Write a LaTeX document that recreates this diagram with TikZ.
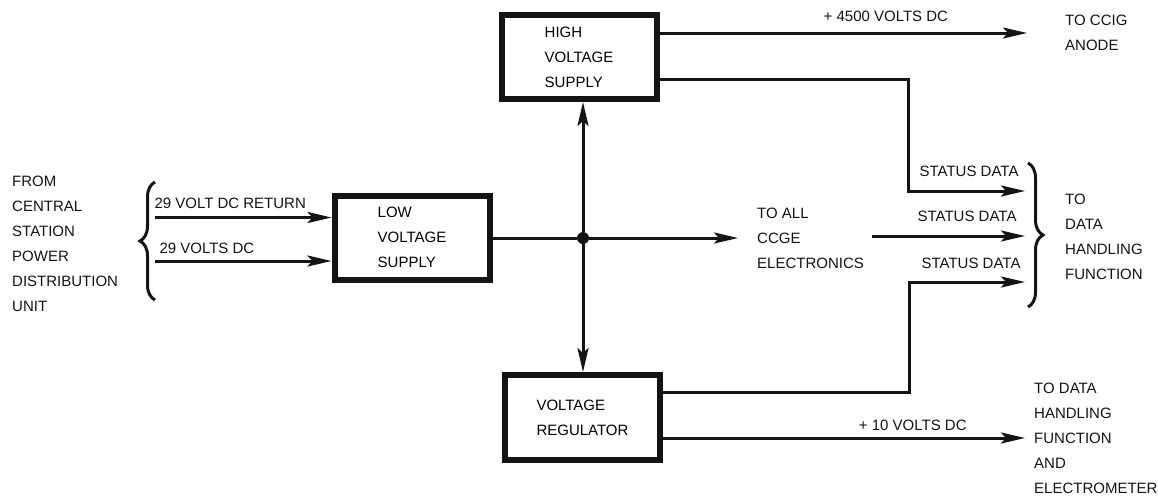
\documentclass[tikz,border=0pt]{standalone}
\usepackage{fontspec}
\setmainfont{Liberation Sans}
\usepackage{tikz}
\usetikzlibrary{arrows.meta, positioning, decorations.pathreplacing}
\definecolor{ink}{RGB}{20,20,20}
\newcommand{\diagfont}{\fontsize{15}{25}\selectfont}
\tikzset{
  block/.style={rectangle, draw=ink, line width=6pt, minimum width=155pt,
    minimum height=84pt, align=left, font=\diagfont, inner sep=0pt},
  lbl/.style={font=\diagfont, text=ink, inner sep=0pt},
  txt/.style={font=\diagfont, text=ink, inner sep=0pt, align=left, anchor=west},
  dot/.style={circle, fill=ink, minimum size=12pt, inner sep=0pt},
  arrow/.style={-{Stealth[length=24pt, width=11pt, inset=5pt]}, line width=3pt, color=ink},
  line/.style={line width=3pt, color=ink},
  bracket/.style={decorate, decoration={brace, amplitude=15pt}, line width=3pt, color=ink}
}

\begin{document}
\begin{tikzpicture}[x=1pt, y=-1pt]
  \useasboundingbox (0,0) rectangle (1158,499);

  % supplies and regulator
  \node[block] (hv) at (579,57) {HIGH\\VOLTAGE\\SUPPLY};
  \node[block] (lv) at (412,237.5) {LOW\\VOLTAGE\\SUPPLY};
  \node[block, minimum height=85pt] (vr) at (582.5,417.5) {VOLTAGE\\REGULATOR};
  \node[dot] (j) at (583,238) {};

  % input from the central station
  \node[txt] (pdu) at (12,244) {FROM\\CENTRAL\\STATION\\POWER\\DISTRIBUTION\\UNIT};
  \coordinate (bl1) at (155,300);
  \coordinate (bl2) at (155,182);
  \draw[bracket] (bl1) -- (bl2);
  \coordinate (ret) at (155,217.5);
  \coordinate (pwr) at (155,261);
  \draw[arrow] (ret) -- (lv.west |- ret)
    node[lbl, pos=0, anchor=south west, xshift=-2pt, yshift=7pt] {29 VOLT DC RETURN};
  \draw[arrow] (pwr) -- (lv.west |- pwr)
    node[lbl, pos=0, anchor=south west, xshift=3pt, yshift=6pt] {29 VOLTS DC};

  % distribution
  \draw[line] (lv.east |- j) -- (j);
  \draw[arrow] (j) -- (j |- hv.south);
  \draw[arrow] (j) -- (j |- vr.north);
  \coordinate (ccgein) at (738,238);
  \draw[arrow] (j) -- (ccgein);
  \node[txt, right=19pt of ccgein] (ccge) {TO ALL\\CCGE\\ELECTRONICS};

  % high voltage outputs
  \coordinate (anode) at (1027,33);
  \draw[arrow] (hv.east |- anode) -- (anode)
    node[lbl, pos=0.616, above=10pt] {+ 4500 VOLTS DC};
  \node[txt, right=38pt of anode] (ccig) {TO CCIG\\ANODE};

  % status data
  \coordinate (st1) at (1025,191);
  \coordinate (st2) at (1025,236);
  \coordinate (st3) at (1025,282);
  \coordinate (st2in) at (872,236);
  \draw[arrow] ([yshift=-22pt]hv.east) -- ++(249,0) |- (st1)
    node[lbl, pos=1, anchor=south east, xshift=-5pt, yshift=13pt] {STATUS DATA};
  \draw[arrow] (st2in) -- (st2)
    node[lbl, pos=1, anchor=south east, xshift=-7pt, yshift=13pt] {STATUS DATA};
  \draw[arrow] ([yshift=25.5pt]vr.east) -- ++(246,0) |- (st3)
    node[lbl, pos=1, anchor=south east, xshift=-3pt, yshift=12pt] {STATUS DATA};
  \coordinate (br1) at (1028,163);
  \coordinate (br2) at (1028,307);
  \draw[bracket] (br1) -- (br2);
  \node[txt] (dhf) at (1065,237) {TO\\DATA\\HANDLING\\FUNCTION};

  % regulated output
  \coordinate (elec) at (1025,438);
  \draw[arrow] (vr.east |- elec) -- (elec)
    node[lbl, pos=0.69, above=6pt] {+ 10 VOLTS DC};
  \node[txt, right=9pt of elec] (elm) {TO DATA\\HANDLING\\FUNCTION\\AND\\ELECTROMETER};
\end{tikzpicture}
\end{document}
